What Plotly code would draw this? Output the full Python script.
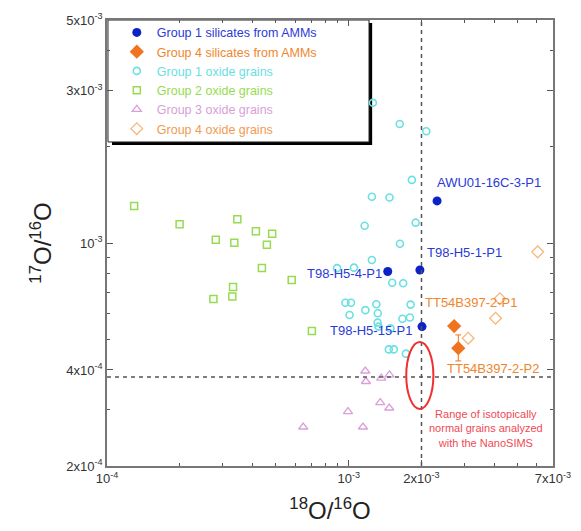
import math
import plotly.graph_objects as go

# ---------------- data (ratios) ----------------
# Group 1 silicates from AMMs (filled blue circles)
g1sil_names = ["AWU01-16C-3-P1", "T98-H5-1-P1", "T98-H5-4-P1", "T98-H5-15-P1"]
g1sil_x = [2.32e-3, 1.97e-3, 1.45e-3, 2.01e-3]
g1sil_y = [1.355e-3, 8.23e-4, 8.14e-4, 5.47e-4]

# Group 4 silicates from AMMs (filled orange diamonds)
g4sil_names = ["TT54B397-2-P1", "TT54B397-2-P2"]
g4sil_x = [2.73e-3, 2.84e-3]
g4sil_y = [5.49e-4, 4.68e-4]
g4sil_err_plus = [0.0, 0.47e-4]
g4sil_err_minus = [0.0, 0.41e-4]

# Group 1 oxide grains (open cyan circles)
g1ox_x = [1.259e-3, 1.626e-3, 2.094e-3, 1.825e-3, 1.247e-3, 1.475e-3, 1.892e-3, 1.164e-3,
          1.629e-3, 1.247e-3, 8.95e-4, 1.051e-3, 1.513e-3, 1.680e-3, 9.69e-4, 1.022e-3,
          1.301e-3, 1.803e-3, 1.172e-3, 1.008e-3, 1.319e-3, 1.668e-3, 1.791e-3, 1.317e-3,
          1.329e-3, 1.489e-3, 1.465e-3, 1.536e-3, 1.724e-3]
g1ox_y = [2.75e-3, 2.36e-3, 2.24e-3, 1.577e-3, 1.397e-3, 1.388e-3, 1.158e-3, 1.133e-3,
          9.95e-4, 8.85e-4, 8.34e-4, 8.37e-4, 7.51e-4, 7.48e-4, 6.50e-4, 6.50e-4,
          6.43e-4, 6.41e-4, 6.16e-4, 5.95e-4, 6.02e-4, 5.79e-4, 5.84e-4, 5.63e-4,
          5.47e-4, 5.40e-4, 4.64e-4, 4.64e-4, 4.50e-4]

# Group 2 oxide grains (open green squares)
g2ox_x = [1.295e-4, 1.997e-4, 3.460e-4, 2.818e-4, 3.363e-4, 4.130e-4, 4.822e-4, 4.586e-4,
          4.373e-4, 5.810e-4, 3.322e-4, 3.300e-4, 2.756e-4, 7.04e-4]
g2ox_y = [1.306e-3, 1.145e-3, 1.187e-3, 1.023e-3, 1.002e-3, 1.088e-3, 1.070e-3, 9.88e-4,
          8.35e-4, 7.66e-4, 7.28e-4, 6.80e-4, 6.67e-4, 5.30e-4]

# Group 3 oxide grains (open pink triangles)
g3ox_x = [1.171e-3, 1.178e-3, 1.363e-3, 1.475e-3, 1.350e-3, 1.471e-3, 9.93e-4, 1.145e-3, 6.48e-4]
g3ox_y = [3.97e-4, 3.68e-4, 3.77e-4, 3.86e-4, 3.16e-4, 3.04e-4, 2.96e-4, 2.65e-4, 2.65e-4]

# Group 4 oxide grains (open orange diamonds)
g4ox_x = [6.05e-3, 4.22e-3, 4.05e-3, 3.12e-3]
g4ox_y = [9.38e-4, 6.69e-4, 5.81e-4, 5.03e-4]

# Solar reference values and the range of normal grains
solar_18 = 2.0e-3
solar_17 = 3.8e-4
normal_x = [1.73e-3, 2.24e-3]
normal_y = [3.02e-4, 4.89e-4]

# axes
x_range = [1e-4, 7e-3]
y_range = [2e-4, 5e-3]
x_ticks = [1e-4, 1e-3, 2e-3, 7e-3]
x_ticktext = ["10<sup>-4</sup>", "10<sup>-3</sup>", "2x10<sup>-3</sup>", "7x10<sup>-3</sup>"]
x_minor = [2e-4, 3e-4, 4e-4, 5e-4, 6e-4, 7e-4, 8e-4, 9e-4, 3e-3, 4e-3, 5e-3, 6e-3]
y_ticks = [2e-4, 4e-4, 1e-3, 3e-3, 5e-3]
y_ticktext = ["2x10<sup>-4</sup>", "4x10<sup>-4</sup>", "10<sup>-3</sup>", "3x10<sup>-3</sup>", "5x10<sup>-3</sup>"]
y_minor = [3e-4, 5e-4, 6e-4, 7e-4, 8e-4, 9e-4, 2e-3, 4e-3]

# ---------------- styles ----------------
FONT = "Liberation Sans, Arial, Helvetica, sans-serif"
C_BLUE = "#0b22c8"
C_BLUE_T = "#2a3ad8"
C_ORANGE = "#f07420"
C_ORANGE_T = "#f0862c"
C_CYAN = "#6ae0e2"
C_GREEN = "#96dc50"
C_PINK = "#d9a0d8"
C_LORANGE = "#f5b77a"
C_LORANGE_T = "#f29a50"
C_RED = "#ee3030"
C_RED_T = "#f04a55"


def lname(text, color):
    return '<span style="color:%s">%s</span>' % (color, text)


fig = go.Figure()

fig.add_trace(go.Scatter(
    x=g1sil_x, y=g1sil_y, mode="markers", name=lname("Group 1 silicates from AMMs", C_BLUE_T),
    marker=dict(symbol="circle", size=9, color=C_BLUE)))
fig.add_trace(go.Scatter(
    x=g4sil_x, y=g4sil_y, mode="markers", name=lname("Group 4 silicates from AMMs", C_ORANGE_T),
    marker=dict(symbol="diamond", size=11, color=C_ORANGE),
    error_y=dict(type="data", array=g4sil_err_plus, arrayminus=g4sil_err_minus,
                 color=C_ORANGE, thickness=1, width=3)))
fig.add_trace(go.Scatter(
    x=g1ox_x, y=g1ox_y, mode="markers", name=lname("Group 1 oxide grains", C_CYAN),
    marker=dict(symbol="circle-open", size=7, color=C_CYAN, line=dict(width=1.6))))
fig.add_trace(go.Scatter(
    x=g2ox_x, y=g2ox_y, mode="markers", name=lname("Group 2 oxide grains", C_GREEN),
    marker=dict(symbol="square-open", size=7, color=C_GREEN, line=dict(width=1.5))))
fig.add_trace(go.Scatter(
    x=g3ox_x, y=g3ox_y, mode="markers", name=lname("Group 3 oxide grains", C_PINK),
    marker=dict(symbol="triangle-up-open", size=8, color=C_PINK, line=dict(width=1.3))))
fig.add_trace(go.Scatter(
    x=g4ox_x, y=g4ox_y, mode="markers", name=lname("Group 4 oxide grains", C_LORANGE_T),
    marker=dict(symbol="diamond-open", size=9, color=C_LORANGE, line=dict(width=1.3))))

# ---------------- shapes ----------------
shapes = []
# legend box shadow and box (paper coords)
shapes.append(dict(type="rect", xref="paper", yref="paper", x0=0.0112, x1=0.5945, y0=0.7195, y1=0.993,
                   fillcolor="black", line=dict(width=0), layer="below"))
shapes.append(dict(type="rect", xref="paper", yref="paper", x0=0.0022, x1=0.5875, y0=0.7265, y1=1.0,
                   fillcolor="white", line=dict(color="#222", width=1), layer="below"))
# solar dashed lines
shapes.append(dict(type="line", xref="x", yref="paper", x0=solar_18, x1=solar_18, y0=0, y1=1,
                   line=dict(color="#555", width=1.5, dash="4px,4px")))
shapes.append(dict(type="line", xref="paper", yref="y", x0=0, x1=1, y0=solar_17, y1=solar_17,
                   line=dict(color="#555", width=1.5, dash="4px,4px")))
# ellipse of normal grains
shapes.append(dict(type="circle", xref="x", yref="y", x0=normal_x[0], x1=normal_x[1],
                   y0=normal_y[0], y1=normal_y[1], line=dict(color=C_RED, width=2)))

# ---------------- annotations ----------------
L = math.log10
ann = []


def label(text, x, y, color, xanchor, size=13):
    ann.append(dict(text=text, x=L(x), y=L(y), xref="x", yref="y", showarrow=False,
                    xanchor=xanchor, yanchor="middle", font=dict(family=FONT, size=size, color=color)))


label(g1sil_names[0], 2.28e-3, 1.552e-3, C_BLUE_T, "left")
label(g1sil_names[1], 2.075e-3, 9.31e-4, C_BLUE_T, "left")
label(g1sil_names[2], 1.393e-3, 8.04e-4, C_BLUE_T, "right")
label(g1sil_names[3], 1.871e-3, 5.33e-4, C_BLUE_T, "right")
label(g4sil_names[0], 2.037e-3, 6.53e-4, C_ORANGE_T, "left")
label(g4sil_names[1], 2.506e-3, 4.03e-4, C_ORANGE_T, "left")
ann.append(dict(text="Range of isotopically<br>normal grains analyzed<br>with the NanoSIMS",
                x=L(3.70e-3), y=L(2.63e-4), xref="x", yref="y", showarrow=False,
                xanchor="center", yanchor="middle",
                font=dict(family=FONT, size=11, color=C_RED_T)))

# the page body adds an 8 px offset, so the figure is 8 px smaller and the
# left/top margins 8 px narrower
fig.update_layout(
    width=573, height=523,
    margin=dict(l=99, r=28, t=12, b=65, autoexpand=False),
    paper_bgcolor="white", plot_bgcolor="white",
    font=dict(family=FONT, size=12, color="#222"),
    shapes=shapes, annotations=ann,
    showlegend=True,
    legend=dict(x=0.022, y=1.005, xanchor="left", yanchor="top", bgcolor="rgba(0,0,0,0)",
                borderwidth=0, font=dict(family=FONT, size=12.5), tracegroupgap=0,
                itemsizing="trace"),
)

axis_common = dict(
    type="log", showgrid=False, zeroline=False, showline=True, linecolor="#777", linewidth=1.5,
    mirror="ticks", ticks="inside", ticklen=6, tickwidth=1, tickcolor="#555", automargin=False,
    tickfont=dict(family=FONT, size=13, color="#333"),
)
fig.update_xaxes(**axis_common, range=[L(x_range[0]), L(x_range[1])],
                 tickmode="array", tickvals=x_ticks, ticktext=x_ticktext,
                 minor=dict(tickmode="array", tickvals=x_minor, ticks="inside", ticklen=3, tickcolor="#555"),
                 title=dict(text="<sup>18</sup>O/<sup>16</sup>O", font=dict(family=FONT, size=24, color="#222"),
                            standoff=17))
fig.update_yaxes(**axis_common, range=[L(y_range[0]), L(y_range[1])],
                 tickmode="array", tickvals=y_ticks, ticktext=y_ticktext,
                 minor=dict(tickmode="array", tickvals=y_minor, ticks="inside", ticklen=3, tickcolor="#555"),
                 title=dict(text="<sup>17</sup>O/<sup>16</sup>O", font=dict(family=FONT, size=24, color="#222"),
                            standoff=8))

fig.write_html("out.html")
